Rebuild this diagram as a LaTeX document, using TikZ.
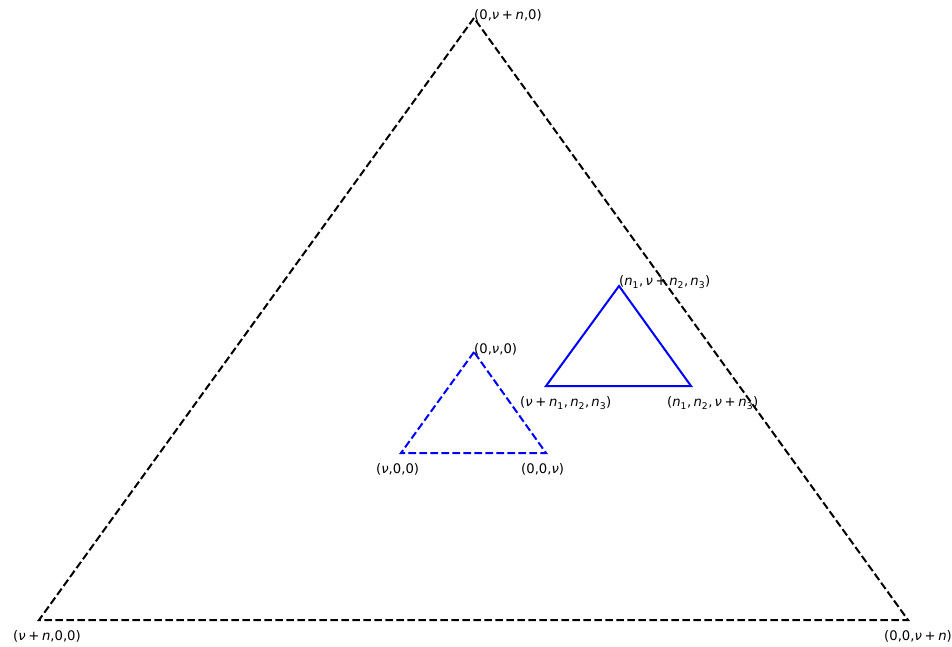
\documentclass[tikz,border=0pt]{standalone}
\usepackage{fontspec}
\setmainfont{DejaVu Sans}
\newcommand\vn{\textit{ν}}
\newcommand\vm{\textit{n}}
\newcommand\pl{\kern0.2em+\kern0.2em}
\newcommand\sbx[1]{\textsubscript{#1}}
\newcommand\cm{,\kern0.17em}
\begin{document}
\begin{tikzpicture}[x=1pt,y=-1pt,
  bigtri/.style={draw=black,line width=2pt,dash pattern=on 7.7pt off 3.3pt,line join=miter},
  smalldash/.style={draw=blue,line width=2pt,dash pattern=on 7.7pt off 3.3pt},
  smallsolid/.style={draw=blue,line width=2pt},
  lbl/.style={anchor=west,inner sep=0pt,font=\fontsize{13.2}{16}\selectfont}]
\useasboundingbox (0,0) rectangle (952,647);
\coordinate (A) at (474,18);
\coordinate (B) at (39,620);
\coordinate (C) at (908,620);
\coordinate (D) at (474,352);
\coordinate (E) at (401,453);
\coordinate (F) at (546,453);
\coordinate (G) at (619,286);
\coordinate (H) at (546,386);
\coordinate (I) at (691,386);
\draw[bigtri] (A) -- (B) -- (C) -- cycle;
\draw[smalldash] (D) -- (E) -- (F) -- cycle;
\draw[smallsolid] (G) -- (H) -- (I) -- cycle;
\node[lbl] (lA) at (474,15) {(0,\vn\pl\vm,0)};
\node[lbl] (lB) at (13,636) {(\vn\pl\vm,0,0)};
\node[lbl] (lC) at (884,636) {(0,0,\vn\pl\vm)};
\node[lbl] (lD) at (474,349) {(0,\vn,0)};
\node[lbl] (lE) at (376,469) {(\vn,0,0)};
\node[lbl] (lF) at (521,469) {(0,0,\vn)};
\node[lbl] (lG) at (619,282) {(\vm\sbx{1}\cm\vn\pl\vm\sbx{2}\cm\vm\sbx{3})};
\node[lbl] (lH) at (520,403) {(\vn\pl\vm\sbx{1}\cm\vm\sbx{2}\cm\vm\sbx{3})};
\node[lbl] (lI) at (667,403) {(\vm\sbx{1}\cm\vm\sbx{2}\cm\vn\pl\vm\sbx{3})};
\end{tikzpicture}
\end{document}
